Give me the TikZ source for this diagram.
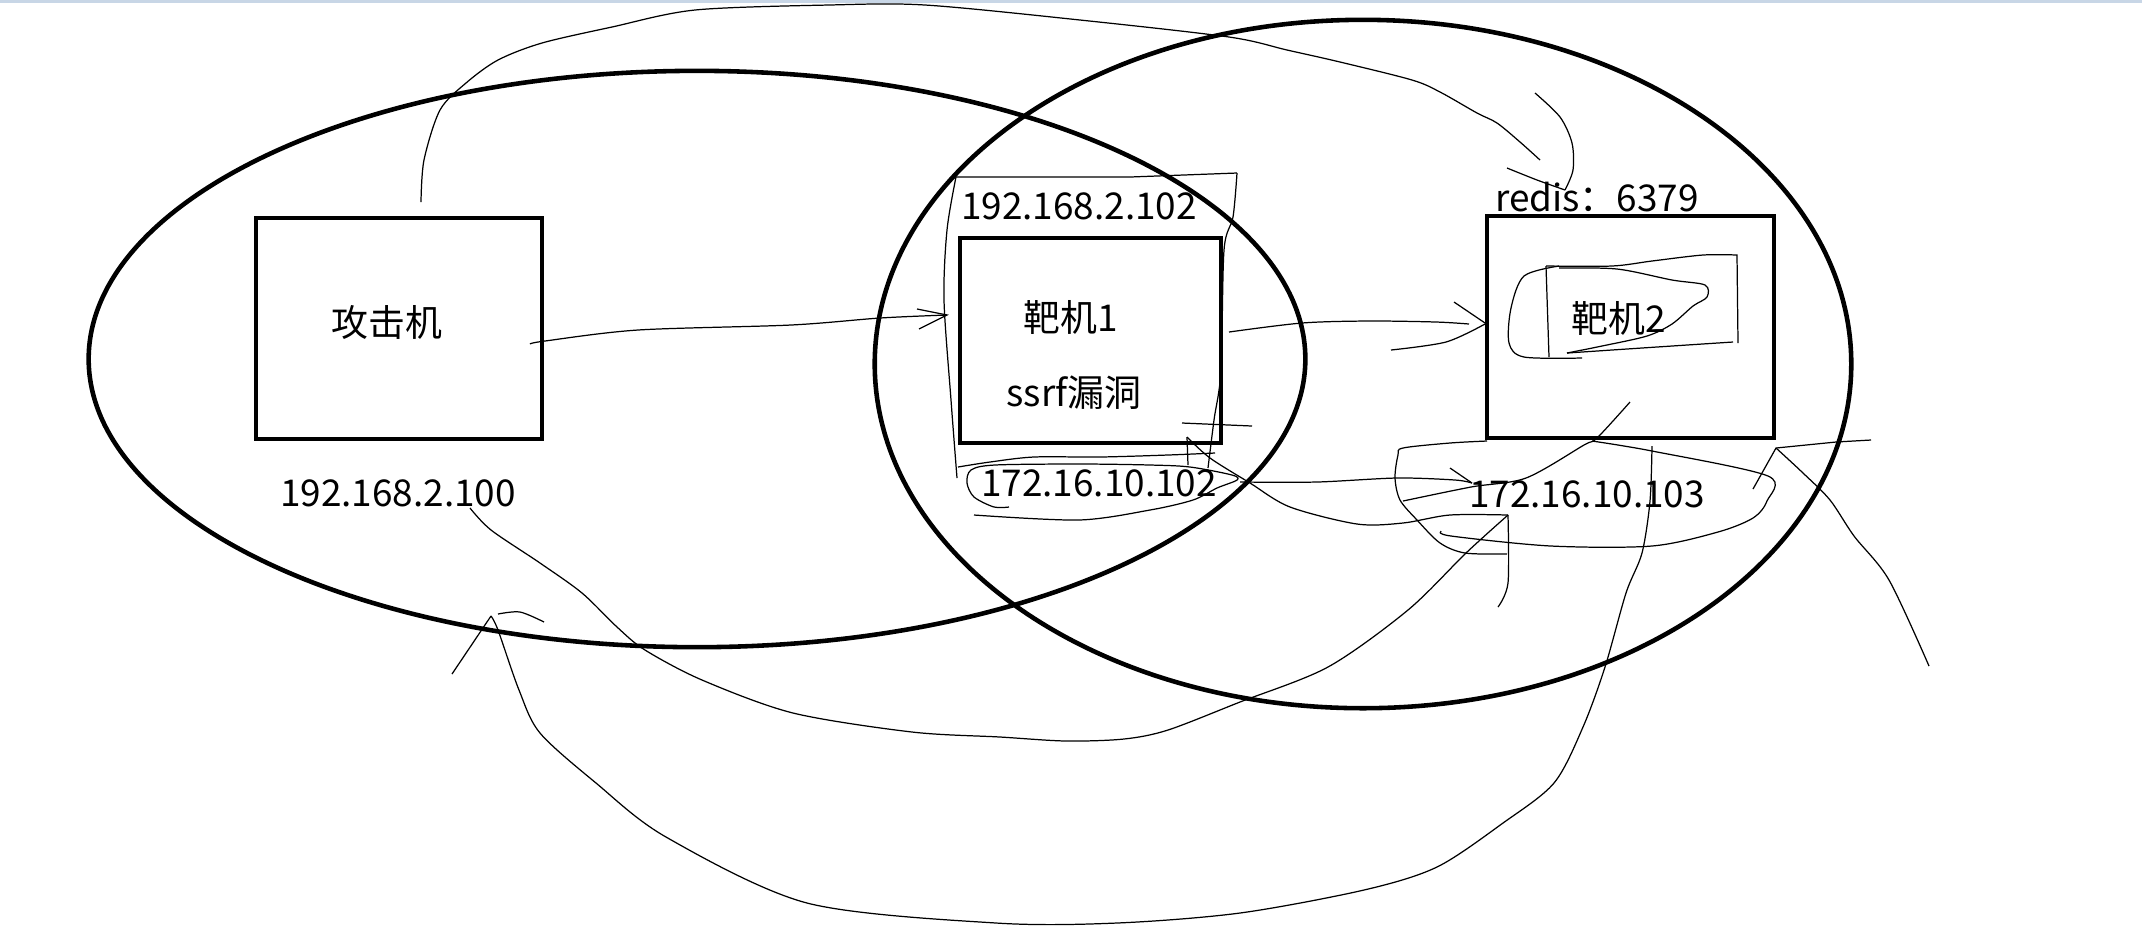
\documentclass[tikz,border=0pt]{standalone}
\usepackage{fontspec}
\newfontfamily\cjkfont{Noto Sans CJK SC}
\usepackage{tikz}
\usetikzlibrary{positioning, calc}
\definecolor{topedge}{RGB}{200,214,230}

\begin{document}
\begin{tikzpicture}[x=0.01cm, y=-0.01cm,
    ring/.style={line width=1.3pt},
    box/.style={draw, line width=1.3pt, inner sep=0pt},
    pen/.style={line width=0.35pt},
    lbl/.style={font=\cjkfont\fontsize{10.5}{12}\selectfont, inner sep=0pt}]
      \useasboundingbox (0,0) rectangle (2142,929);
      \draw[topedge, line width=1pt] (0,1) -- (2142,1);   %window edge

      \coordinate (tipA) at (947,315);
      \coordinate (tipB) at (1485,323);
      \coordinate (tipC) at (1508,515);
      \coordinate (tipD) at (491,616);
      \coordinate (tipE) at (1776,448);
      \coordinate (tipF) at (1565,190);

      \draw[ring] (697,359) ellipse [x radius=6.08cm, y radius=2.88cm];   %192.168.2.x
      \draw[ring] (1363,364) ellipse [x radius=4.88cm, y radius=3.44cm];  %172.16.10.x

      \node[box, minimum width=2.86cm, minimum height=2.21cm] (atk) at (399,328.5) {};
      \node[box, minimum width=2.61cm, minimum height=2.05cm] (tgt1) at (1090.5,340.5) {};
      \node[box, minimum width=2.87cm, minimum height=2.22cm] (tgt2) at (1630.5,327) {};

      \node[lbl] (atktxt) at (387,322) {攻击机};
      \node[lbl] (atkip) at (398,493) {192.168.2.100};
      \node[lbl] (tgt1ip) at (1079,206) {192.168.2.102};
      \node[lbl] (tgt1txt) at (1071,317) {靶机1};
      \node[lbl] (tgt1vul) at (1074,393) {ssrf漏洞};
      \node[lbl] (tgt1ipb) at (1099,483) {172.16.10.102};
      \node[lbl] (redis) at (1597,197) {redis：6379};
      \node[lbl] (tgt2txt) at (1619,318) {靶机2};
      \node[lbl] (tgt2ip) at (1587,494) {172.16.10.103};

      % attacker -> target 1
      \draw[pen] plot[smooth] coordinates {(530,344) (545,341) (638,330) (791,325) (880,318) (947,315)};
      \draw[pen] (917,309) -- (tipA) -- (919,329);

      % outline round target 1
      \draw[pen] plot[smooth] coordinates {(957,478) (951,400) (944,300) (947,230) (956,177)} -- (1130,177) -- (1237,173);
      \draw[pen] plot[smooth] coordinates {(1237,173) (1233,217) (1224,250) (1221,370) (1214,420) (1208,468)};

      % lasso round 172.16.10.102
      \draw[pen] plot[smooth] coordinates {(958,467) (990,462) (1034,457) (1100,457) (1168,455) (1215,453)};
      \draw[pen] plot[smooth] coordinates {(1009,507) (994,507) (974,497) (967,483) (971,470) (995,465) (1080,464) (1150,465) (1190,467) (1232,475) (1237,480) (1217,488) (1193,500) (1150,510) (1079,520) (974,515)};

      % target 1 -> target 2
      \draw[pen] plot[smooth] coordinates {(1229,332) (1302,323) (1369,321) (1436,322) (1469,324)};
      \draw[pen] (1454,302) -- (tipB);
      \draw[pen] plot[smooth] coordinates {(1391,350) (1446,342) (1485,324)};

      % 172.16.10.102 -> 172.16.10.103
      \draw[pen] plot[smooth] coordinates {(1240,482) (1317,482) (1397,478) (1455,480) (1472,483)};
      \draw[pen] (1450,468) -- (1472,483);

      % out of target 1 down to 103
      \draw[pen] (1182,423) -- (1252,426);
      \draw[pen] (1188,465) -- (1187,437);
      \draw[pen] plot[smooth] coordinates {(1187,437) (1210,458) (1250,483) (1290,507) (1357,524) (1403,523) (1450,515) (1508,515)};

      % 192.168.2.100 round to 103
      \draw[pen] plot[smooth] coordinates {(470,508) (491,530) (540,563) (582,593) (617,627) (645,650) (702,680) (793,713) (912,732) (1000,737) (1066,741) (1124,739) (1168,730) (1240,702) (1328,667) (1408,610) (1466,553) (1508,515)};
      \draw[pen] plot[smooth] coordinates {(tipC) (1508,583) (1498,607)};

      % lasso round 172.16.10.103
      \draw[pen] plot[smooth] coordinates {(1507,554) (1465,553) (1440,543) (1417,520) (1400,500) (1395,478) (1398,455) (1403,448) (1450,443) (1487,441)};
      \draw[pen] plot[smooth] coordinates {(1592,441) (1652,451) (1768,476) (1767,501) (1753,518) (1718,532) (1652,546) (1551,546) (1451,536) (1441,531)};
      \draw[pen] plot[smooth] coordinates {(1630,402) (1597,438) (1584,445) (1526,478) (1471,487) (1403,501)};

      % scribble round target 2
      \draw[pen] plot[smooth] coordinates {(1546,266) (1612,266) (1652,261) (1703,255) (1737,255)} -- (1738,343);
      \draw[pen] (1546,266) -- (1549,357);
      \draw[pen] plot[smooth] coordinates {(1567,353) (1672,346) (1733,342)};
      \draw[pen] plot[smooth] coordinates {(1559,268) (1617,269) (1672,280) (1705,285) (1707,297) (1693,306) (1672,324) (1647,336) (1602,346) (1567,353)};
      \draw[pen] plot[smooth] coordinates {(1559,266) (1524,276) (1511,308) (1509,343) (1524,357) (1582,358)};

      % under target 2 back to the attacker net
      \draw[pen] plot[smooth] coordinates {(1652,446) (1650,501) (1642,553) (1626,593) (1605,667) (1583,727) (1554,783) (1503,823) (1437,867) (1364,890) (1240,913) (1117,923) (996,923) (807,903) (666,837) (596,783) (540,733) (519,690) (498,630) (491,616)};
      \draw[pen] (452,674) -- (tipD);
      \draw[pen] plot[smooth] coordinates {(498,614) (520,612) (544,622)};

      % right of target 2
      \draw[pen] plot[smooth] coordinates {(1929,666) (1889,580) (1854,536) (1830,500) (1803,473) (1776,448)};
      \draw[pen] (1753,489) -- (tipE) -- (1836,442) -- (1871,440);

      % attacker over the top to redis
      \draw[pen] plot[smooth] coordinates {(421,202) (424,160) (440,110) (466,83) (498,60) (542,43) (612,27) (695,10) (829,5) (925,5) (1080,20) (1229,37) (1287,50) (1340,62) (1412,80) (1440,92) (1477,113) (1497,123) (1520,142) (1540,160)};
      \draw[pen] plot[smooth] coordinates {(1535,93) (1560,117) (1572,143) (1573,170) (1565,190)};
      \draw[pen] plot[smooth] coordinates {(1507,168) (1537,180) (tipF)};
    \end{tikzpicture}
\end{document}
